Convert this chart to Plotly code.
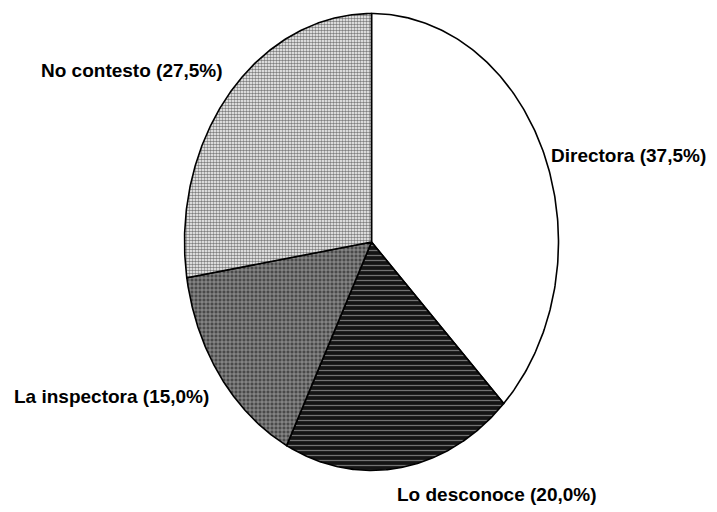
import numpy as np
import plotly.graph_objects as go

# ---- data ----
labels = ["Directora", "Lo desconoce", "La inspectora", "No contesto"]
values = [37.5, 20.0, 15.0, 27.5]

# ---- styling / layout (not data) ----
W, H = 717, 512
OFF = 8                 # page body margin
cx, cy = 371.5, 242.0   # ellipse centre (page pixel space)
ax, by = 187.0, 228.5   # semi-axes
patterns = [
    None,
    dict(shape="-", bgcolor="#141414", fgcolor="#d0d0d0", size=5, solidity=0.25),
    dict(shape="+", bgcolor="#4a4a4a", fgcolor="#ffffff", size=4, solidity=0.35),
    dict(shape=".", bgcolor="#ffffff", fgcolor="#000000", size=3, solidity=0.55),
]
fills = ["#ffffff", "#141414", "#4a4a4a", "#ffffff"]
label_pos = [  # (x, y, xanchor) for annotations
    (549, 155, "left"),
    (395, 494, "left"),
    (211, 396, "right"),
    (225, 70, "right"),
]

fig = go.Figure()
total = sum(values)
start = 0.0
for lab, v, pat, fc in zip(labels, values, patterns, fills):
    end = start + v / total
    th = np.linspace(start, end, 200) * 2 * np.pi
    xs = np.concatenate([[cx], cx + ax * np.sin(th), [cx]])
    ys = np.concatenate([[cy], cy - by * np.cos(th), [cy]])
    kw = dict(fill="toself", fillcolor=fc)
    if pat is not None:
        kw["fillpattern"] = pat
    fig.add_trace(go.Scatter(x=xs, y=ys, mode="lines",
                             line=dict(color="black", width=1.6),
                             hoverinfo="skip", showlegend=False, **kw))
    start = end

for lab, v, (x, y, xa) in zip(labels, values, label_pos):
    txt = f"{lab} ({v:.1f}%)".replace(".", ",")
    fig.add_annotation(x=x, y=y, text=txt, showarrow=False, xanchor=xa,
                       yanchor="middle",
                       font=dict(family="Liberation Sans Narrow, Liberation Sans, Arial",
                                 size=19, color="black", weight="bold"))

fig.update_layout(
    width=W, height=H,
    margin=dict(l=0, r=0, t=0, b=0),
    paper_bgcolor="white", plot_bgcolor="white",
    xaxis=dict(range=[OFF, W + OFF], visible=False, fixedrange=True),
    yaxis=dict(range=[H + OFF, OFF], visible=False, fixedrange=True),
)
fig.write_html("out.html")
